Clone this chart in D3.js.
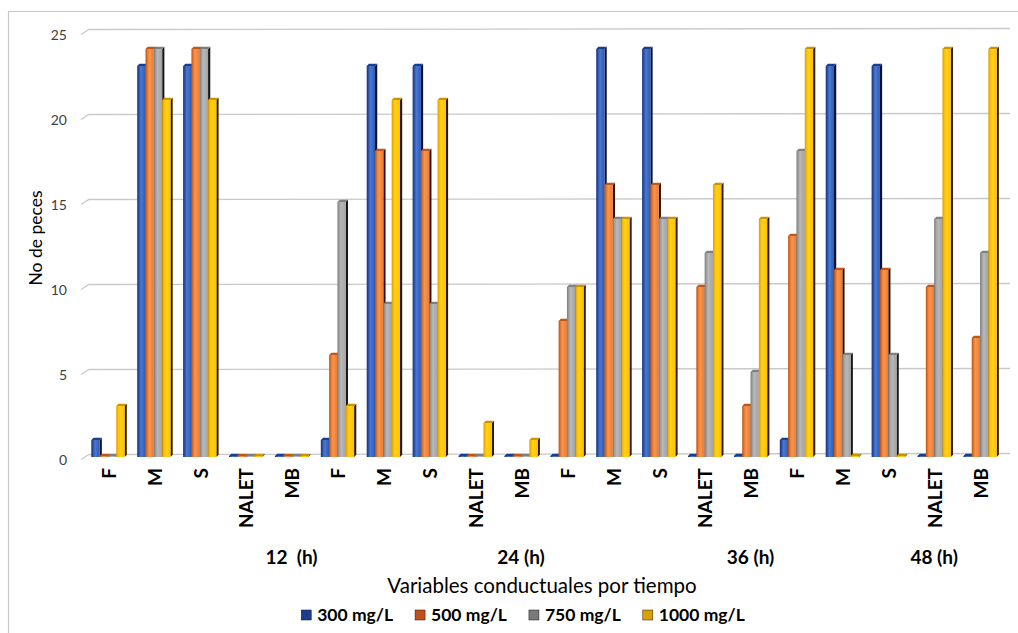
<!DOCTYPE html>
<html>
<head>
<meta charset="utf-8">
<script src="https://cdn.jsdelivr.net/npm/d3@7"></script>
<style>
  body { margin: 0; background: #fff; }
  svg { display: block; font-family: Lato, "Open Sans", sans-serif; }
</style>
</head>
<body>
<div id="chart"></div>
<script>
// Chart size
const width = 1018;
const height = 633;

// Data: categories per time, and 4 concentration series
const categories = ["F", "M", "S", "NALET", "MB",
                    "F", "M", "S", "NALET", "MB",
                    "F", "M", "S", "NALET", "MB",
                    "F", "M", "S", "NALET", "MB"];
const groupLabels = ["12  (h)", "24 (h)", "36 (h)", "48 (h)"];
const groupLabelAt = [4, 9, 14, 18]; // category index the label sits under
const seriesNames = ["300 mg/L", "500 mg/L", "750 mg/L", "1000 mg/L"];
const s300  = [1, 23, 23, 0, 0,  1, 23, 23, 0, 0,  0, 24, 24, 0, 0,  1, 23, 23, 0, 0];
const s500  = [0, 24, 24, 0, 0,  6, 18, 18, 0, 0,  8, 16, 16, 10, 3,  13, 11, 11, 10, 7];
const s750  = [0, 24, 24, 0, 0,  15, 9, 9, 0, 0,  10, 14, 14, 12, 5,  18, 6, 6, 14, 12];
const s1000 = [3, 21, 21, 0, 0,  3, 21, 21, 2, 1,  10, 14, 14, 16, 14,  24, 0, 0, 24, 24];
const yTicks = [0, 5, 10, 15, 20, 25];

const seriesData = [s300, s500, s750, s1000];

// colours for the 3D-ish bars
const palette = [
  { dark: "#15307a", light: "#4a78d2", mid: "#2f59b0", side: "#0a1230", top: "#1c3c8c", legend: "#1f3c8a" },
  { dark: "#b9520f", light: "#f79650", mid: "#ec7a2e", side: "#2b1304", top: "#c0561a", legend: "#c0501c" },
  { dark: "#7c7c7c", light: "#b8b8b8", mid: "#a3a3a3", side: "#151515", top: "#808080", legend: "#7a7a7a" },
  { dark: "#dc9d00", light: "#ffd21a", mid: "#ffc000", side: "#2e1c00", top: "#c99500", legend: "#d9a000" }
];

const svg = d3.select("#chart").append("svg")
  .attr("width", width)
  .attr("height", height);

// gradients for the bar fronts
const defs = svg.append("defs");
palette.forEach((c, i) => {
  const g = defs.append("linearGradient")
    .attr("id", "grad" + i)
    .attr("x1", "0%").attr("x2", "100%").attr("y1", "0%").attr("y2", "0%");
  g.append("stop").attr("offset", "0%").attr("stop-color", c.dark);
  g.append("stop").attr("offset", "25%").attr("stop-color", c.mid);
  g.append("stop").attr("offset", "45%").attr("stop-color", c.light);
  g.append("stop").attr("offset", "100%").attr("stop-color", c.mid);
});

// chart area border (only top & left visible)
svg.append("path")
  .attr("d", "M8.5,633 L8.5,11.5 L1018,11.5")
  .attr("fill", "none")
  .attr("stroke", "#c8c8c8")
  .attr("stroke-width", 1.2);

// Scales
const x = d3.scaleBand()
  .domain(d3.range(categories.length))
  .range([85, 1003])
  .paddingInner(0.275)
  .paddingOuter(0.1375);

const xs = d3.scaleBand()
  .domain(d3.range(seriesNames.length))
  .range([0, x.bandwidth()]);

const y = d3.scaleLinear()
  .domain([0, 25])
  .range([457, 32]);

// Gridlines on the back wall with a small perspective corner
const grid = svg.append("g");
yTicks.forEach(t => {
  const yy = y(t) - 2.5;
  grid.append("path")
    .attr("d", `M81,${yy + 5} L89,${yy} L1010,${yy - 1}`)
    .attr("fill", "none")
    .attr("stroke", "#c9c9c9")
    .attr("stroke-width", 1.3);
});

// Y axis tick labels
svg.append("g")
  .selectAll("text")
  .data(yTicks)
  .join("text")
  .attr("x", 67)
  .attr("y", d => y(d) + 3)
  .attr("dy", "0.35em")
  .attr("text-anchor", "end")
  .attr("font-size", 14)
  .attr("fill", "#404040")
  .text(d => d);

// Bars
const depth = 2.2;
const bars = svg.append("g");
categories.forEach((cat, ci) => {
  seriesData.forEach((vals, si) => {
    const v = vals[ci];
    const c = palette[si];
    const x0 = x(ci) + xs(si);
    const w = xs.bandwidth();
    const base = y(0);
    const top = Math.min(y(v), base - 1);
    const g = bars.append("g");
    // side face
    g.append("path")
      .attr("d", `M${x0 + w},${top} L${x0 + w + depth},${top - depth} L${x0 + w + depth},${base - depth} L${x0 + w},${base} Z`)
      .attr("fill", c.side);
    // front face
    g.append("rect")
      .attr("x", x0)
      .attr("y", top)
      .attr("width", w)
      .attr("height", base - top)
      .attr("fill", `url(#grad${si})`);
    // top face
    g.append("path")
      .attr("d", `M${x0},${top} L${x0 + depth},${top - depth} L${x0 + w + depth},${top - depth} L${x0 + w},${top} Z`)
      .attr("fill", c.top);
  });
});

// Category labels (rotated)
svg.append("g")
  .selectAll("text")
  .data(categories)
  .join("text")
  .attr("transform", (d, i) => `translate(${x(i) + x.bandwidth() / 2 + 1},468) rotate(-90)`)
  .attr("text-anchor", "end")
  .attr("dy", "0.36em")
  .attr("font-size", 19)
  .attr("font-weight", "bold")
  .attr("fill", "#000")
  .text(d => d);

// Group labels (time)
svg.append("g")
  .selectAll("text")
  .data(groupLabels)
  .join("text")
  .attr("x", (d, i) => x(groupLabelAt[i]) + x.bandwidth() / 2)
  .attr("y", 564)
  .attr("text-anchor", "middle")
  .attr("font-size", 19)
  .attr("font-weight", "bold")
  .attr("fill", "#000")
  .style("white-space", "pre")
  .text(d => d);

// Axis titles
svg.append("text")
  .attr("x", 542)
  .attr("y", 593)
  .attr("text-anchor", "middle")
  .attr("font-size", 20.5)
  .attr("fill", "#000")
  .text("Variables conductuales por tiempo");

svg.append("text")
  .attr("transform", "translate(36,238) rotate(-90)")
  .attr("text-anchor", "middle")
  .attr("dy", "0.35em")
  .attr("font-size", 17.5)
  .attr("fill", "#000")
  .text("No de peces");

// Legend
const legend = svg.append("g");
let lx = 0;
seriesNames.forEach((name, i) => {
  const item = legend.append("g").attr("transform", `translate(${lx},0)`);
  item.append("rect")
    .attr("x", 0).attr("y", -11)
    .attr("width", 10).attr("height", 10)
    .attr("fill", palette[i].legend)
    .attr("stroke", palette[i].side)
    .attr("stroke-width", 0.5);
  const t = item.append("text")
    .attr("x", 16)
    .attr("y", 0)
    .attr("font-size", 17.5)
    .attr("font-weight", "bold")
    .attr("fill", "#000")
    .text(name);
  lx += 16 + t.node().getComputedTextLength() + 22;
});
const legendWidth = lx - 22;
legend.attr("transform", `translate(${523 - legendWidth / 2},621)`);
</script>
</body>
</html>
